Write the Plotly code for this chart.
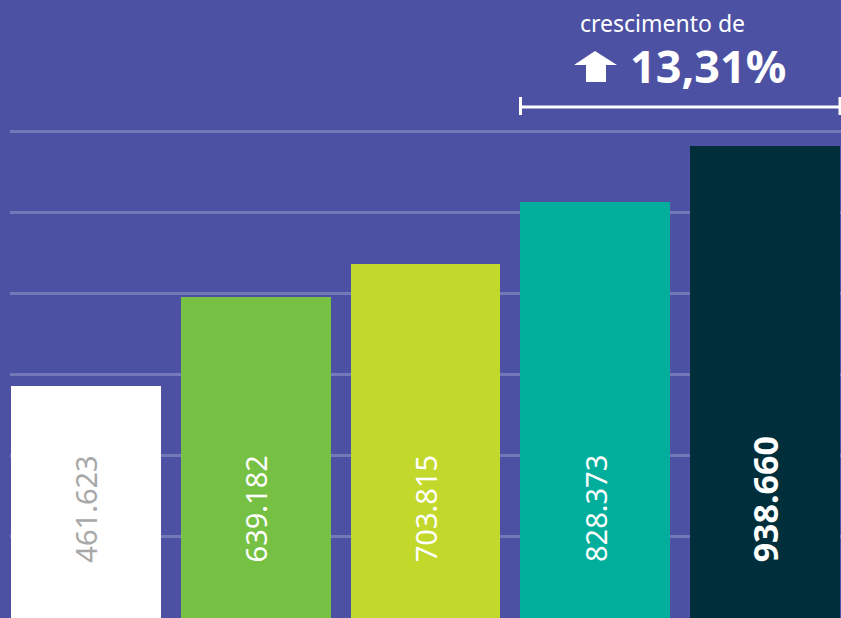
import plotly.graph_objects as go

# ---- data ----
positions = [0, 1, 2, 3, 4]
values = [461.623, 639.182, 703.815, 828.373, 938.660]
value_labels = ["461.623", "639.182", "703.815", "828.373", "938.660"]
bar_colors = ["#FFFFFF", "#76C043", "#C2D82A", "#00AE9B", "#002E3B"]
label_colors = ["#A8A8A8", "#FFFFFF", "#FFFFFF", "#FFFFFF", "#FFFFFF"]
growth_caption = "crescimento de"
growth_value = "13,31%"

BG = "#4C51A3"
GRID = "#7477B8"
W, H = 841, 618
ML, MR, MT, MB = 10, 0, 100, 0

fig = go.Figure()
fig.add_trace(go.Bar(
    x=positions, y=values, width=0.882,
    marker=dict(color=bar_colors, line=dict(width=0)),
    hoverinfo="skip", showlegend=False,
))

# rotated value labels inside the bars
for i, (xv, lab, col) in enumerate(zip(positions, value_labels, label_colors)):
    last = i == len(values) - 1
    fig.add_annotation(
        x=xv, y=107, xref="x", yref="y", text=("<b>%s</b>" % lab) if last else lab,
        textangle=-90, showarrow=False, xanchor="center", yanchor="bottom",
        font=dict(family="Noto Sans", size=34 if last else 29, color=col),
    )

pw = W - ML - MR
ph = H - MT - MB
def pxx(x):
    return (x - ML) / pw
def pxy(y):
    return (H - MB - y) / ph

fig.add_annotation(x=pxx(662), y=pxy(23), xref="paper", yref="paper", text=growth_caption,
                   showarrow=False, xanchor="center", yanchor="middle",
                   font=dict(family="Noto Sans", size=23, color="white"))
fig.add_annotation(x=pxx(708), y=pxy(65), xref="paper", yref="paper", text="<b>%s</b>" % growth_value,
                   showarrow=False, xanchor="center", yanchor="middle",
                   font=dict(family="Noto Sans", size=45, color="white"))

# up arrow icon
pts = [(574, 65), (595, 51), (617, 65), (606, 65), (606, 82), (586, 82), (586, 65)]
path = "M " + " L ".join("%f,%f" % (pxx(a), pxy(b)) for a, b in pts) + " Z"
fig.add_shape(type="path", path=path, xref="paper", yref="paper",
              fillcolor="white", line=dict(width=0))

# bracket
fig.add_shape(type="line", xref="paper", yref="paper", x0=pxx(520), x1=pxx(841), y0=pxy(107), y1=pxy(107),
              line=dict(color="white", width=3))
fig.add_shape(type="line", xref="paper", yref="paper", x0=pxx(520.5), x1=pxx(520.5), y0=pxy(97), y1=pxy(115),
              line=dict(color="white", width=3))
fig.add_shape(type="line", xref="paper", yref="paper", x0=pxx(840), x1=pxx(840), y0=pxy(97), y1=pxy(115),
              line=dict(color="white", width=3))

fig.update_layout(
    width=W, height=H, margin=dict(l=ML, r=MR, t=MT, b=MB),
    paper_bgcolor=BG, plot_bgcolor=BG,
    xaxis=dict(range=[-0.447, 4.447], showticklabels=False, showgrid=False, zeroline=False, fixedrange=True),
    yaxis=dict(range=[0, 1030.8], tick0=0, dtick=161.2, showgrid=True, gridcolor=GRID, gridwidth=3,
               showticklabels=False, zeroline=False, fixedrange=True),
    bargap=0,
)
fig.write_html("out.html", config={"displayModeBar": False},
               post_script="document.body.style.margin='0';document.body.style.overflow='hidden';")
